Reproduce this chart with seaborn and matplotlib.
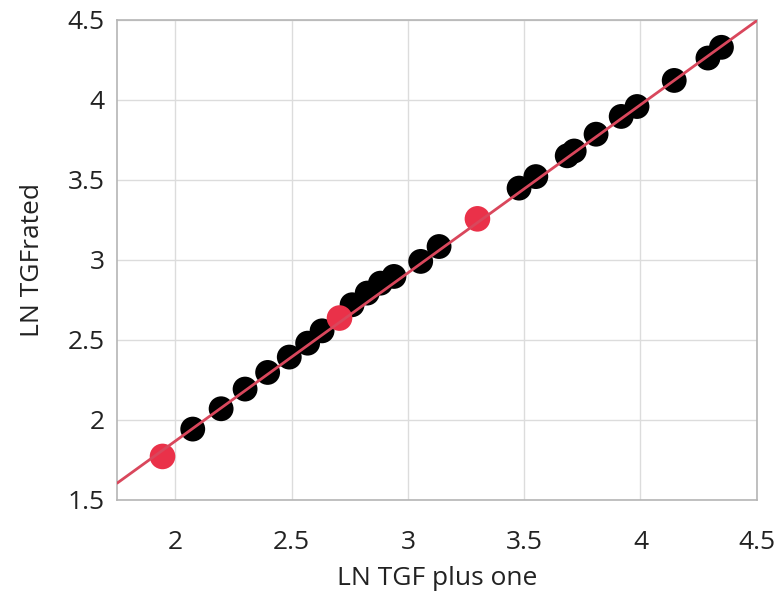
import matplotlib
matplotlib.use("Agg")
import matplotlib.pyplot as plt
import numpy as np
import pandas as pd
import seaborn as sns

# values
x_black = [2.075, 2.197, 2.300, 2.397, 2.490, 2.569, 2.631, 2.760, 2.825, 2.882,
           2.940, 3.055, 3.134, 3.478, 3.550, 3.685, 3.715, 3.809, 3.917, 3.985,
           4.145, 4.290, 4.348]
y_black = [1.942, 2.069, 2.192, 2.296, 2.392, 2.479, 2.556, 2.719, 2.792, 2.854,
           2.896, 2.990, 3.083, 3.448, 3.520, 3.650, 3.680, 3.785, 3.896, 3.958,
           4.121, 4.261, 4.328]
x_red = [1.945, 2.706, 3.299]
y_red = [1.771, 2.636, 3.256]

# fitted line y = a + b*x
line_a = -0.235
line_b = 1.051

x_lim = (1.75, 4.5)
y_lim = (1.5, 4.5)

sns.set_style("white")
plt.rcParams['font.family'] = ['Open Sans', 'DejaVu Sans']

fig = plt.figure(figsize=(7.81, 6.0), dpi=100)
ax = fig.add_axes([0.150, 0.167, 0.819, 0.800])

df_black = pd.DataFrame({"x": x_black, "y": y_black})
df_red = pd.DataFrame({"x": x_red, "y": y_red})

xs = np.array(x_lim)
sns.lineplot(x=xs, y=line_a + line_b * xs, ax=ax, color="#d9475c", linewidth=2.0, zorder=3)
sns.scatterplot(data=df_black, x="x", y="y", ax=ax, color="black", s=320,
                edgecolor="none", zorder=2)
sns.scatterplot(data=df_red, x="x", y="y", ax=ax, color="#ea3149", s=340,
                edgecolor="none", zorder=2)

ax.set_xlim(*x_lim)
ax.set_ylim(*y_lim)
ax.set_xticks(np.arange(2, 4.51, 0.5))
ax.set_xticks(np.arange(1.75, 4.51, 0.25), minor=True)
ax.set_yticks(np.arange(1.5, 4.51, 0.5))
ax.set_xticklabels(["2", "2.5", "3", "3.5", "4", "4.5"])
ax.set_yticklabels(["1.5", "2", "2.5", "3", "3.5", "4", "4.5"])

ax.grid(True, which="major", color="#dcdcdc", linewidth=1.0)
ax.set_axisbelow(True)
for sp in ax.spines.values():
    sp.set_color("#b5b5b5")
    sp.set_linewidth(1.2)

ax.tick_params(axis="both", which="both", direction="out", color="#a0a0a0",
               length=6, width=1, labelsize=19, labelcolor="#222222", pad=3)
ax.tick_params(axis="x", which="major", pad=16)

ax.set_xlabel("LN TGF plus one", fontsize=19, color="#222222", labelpad=8)
ax.set_ylabel("LN TGFrated", fontsize=19, color="#222222", labelpad=16)

plt.savefig("out.png", dpi=100)
